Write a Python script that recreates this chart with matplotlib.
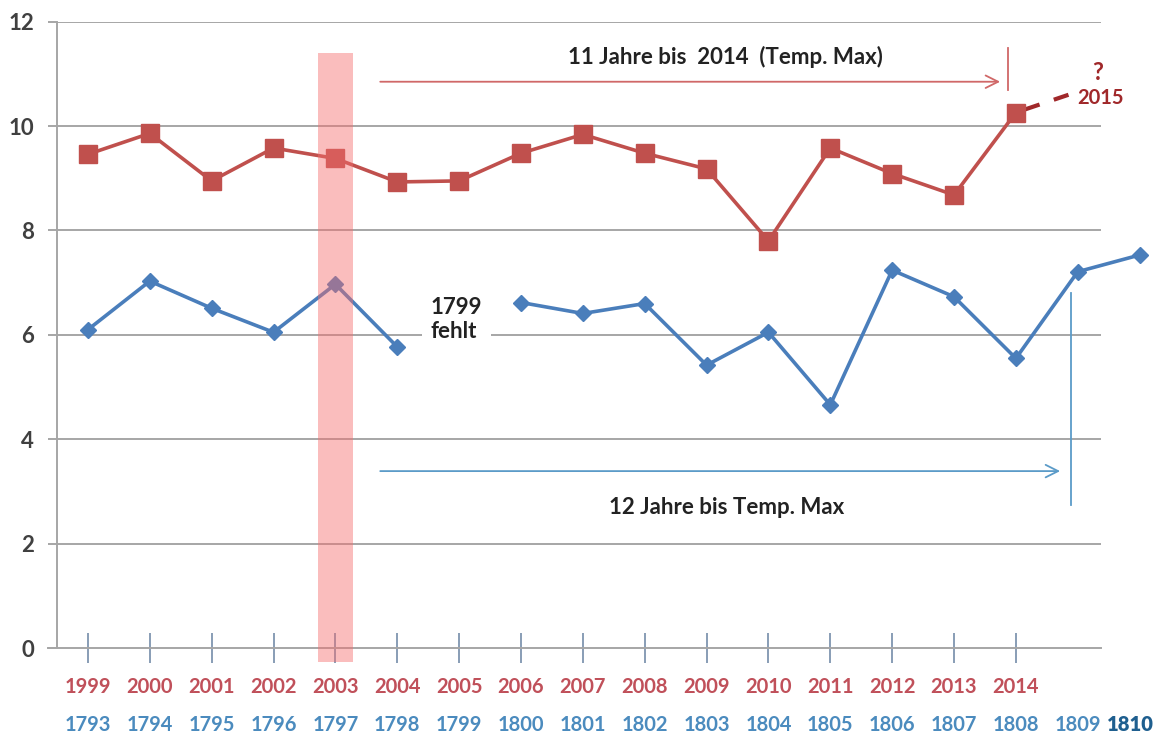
import numpy as np
import matplotlib.pyplot as plt

plt.rcParams['font.family'] = ['Lato', 'DejaVu Sans']

# Jahre (neu, rot) und Jahre (alt, blau)
years_new = ['1999', '2000', '2001', '2002', '2003', '2004', '2005', '2006',
             '2007', '2008', '2009', '2010', '2011', '2012', '2013', '2014']
years_old = ['1793', '1794', '1795', '1796', '1797', '1798', '1799', '1800', '1801',
             '1802', '1803', '1804', '1805', '1806', '1807', '1808', '1809', '1810']

temp_new = [9.46, 9.86, 8.95, 9.58, 9.38, 8.93, 8.95, 9.48,
            9.84, 9.48, 9.18, 7.80, 9.58, 9.09, 8.68, 10.26]
# 1799 fehlt
temp_old = [6.10, 7.03, 6.51, 6.05, 6.97, 5.77, np.nan, 6.62, 6.41,
            6.60, 5.42, 6.05, 4.66, 7.24, 6.73, 5.55, 7.21, 7.53]

# Trend 2014 -> 2015 (?)
trend_x = [15, 15.85]
trend_y = [10.26, 10.60]

highlight_idx = 4       # 2003 / 1797
yticks = [0, 2, 4, 6, 8, 10, 12]

RED = '#c0504d'
BLUE = '#4a7ebb'
GRID = '#a6a6a6'

fig = plt.figure(figsize=(11.56, 7.38), dpi=100)
ax = fig.add_axes([57 / 1156, 74.3 / 738, 1095 / 1156, 642 / 738])
ax.set_xlim(-0.5, 17.2)
ax.set_ylim(-0.3, 12.0)

x_new = np.arange(len(years_new))
x_old = np.arange(len(years_old))

# gridlines
ax.hlines(yticks[1:], -0.65, 16.37, color=GRID, lw=1.4, zorder=1)

for s in ['top', 'right']:
    ax.spines[s].set_visible(False)
ax.spines['left'].set_bounds(0, 12)
ax.spines['left'].set_color(GRID)
ax.spines['left'].set_linewidth(1.4)
ax.spines['bottom'].set_position(('data', 0))
ax.spines['bottom'].set_bounds(-0.65, 16.37)
ax.spines['bottom'].set_color(GRID)
ax.spines['bottom'].set_linewidth(1.4)

ax.set_yticks(yticks)
ax.set_yticklabels([str(v) for v in yticks], fontsize=16, fontweight='bold', color='#404040')
ax.tick_params(axis='y', length=6.5, width=1.4, color=GRID, pad=10)
ax.set_xticks(x_new)
ax.set_xticklabels([])
ax.tick_params(axis='x', direction='inout', length=21.6, width=1.3, color='#7f95b0')

# data lines
ax.plot(x_new, temp_new, color=RED, lw=2.6, marker='s', ms=13, zorder=3)
ax.plot(x_old, temp_old, color=BLUE, lw=2.6, marker='D', ms=8.5, zorder=3)
ax.plot(trend_x, trend_y, color='#a0282a', lw=3, dashes=(6, 3.6), zorder=2)

# highlighted year 2003 / 1797
ax.bar(highlight_idx, 11.66, bottom=-0.26, width=0.56, color=(245 / 255, 110 / 255, 110 / 255),
       alpha=0.45, lw=0, zorder=4, clip_on=False)

# category labels, two rows
for i, lbl in enumerate(years_new):
    ax.text(i, -0.75, lbl, ha='center', va='center', fontsize=14.5, fontweight='bold',
            color='#c0505a', clip_on=False)
for i, lbl in enumerate(years_old):
    if lbl == '1810':
        ax.text(i - 0.15, -1.47, lbl, ha='center', va='center', fontsize=14.5, fontweight='heavy',
                color='#1f5f8f', clip_on=False)
    else:
        ax.text(i, -1.47, lbl, ha='center', va='center', fontsize=14.5, fontweight='bold',
                color='#4b8bbe', clip_on=False)

# annotations
ax.annotate('', xy=(14.79, 10.85), xytext=(4.68, 10.85),
            arrowprops=dict(arrowstyle='->,head_length=0.9,head_width=0.45', color='#d06868', lw=1.3))
ax.plot([14.87, 14.87], [10.69, 11.49], color='#d06868', lw=1.3)
ax.text(10.31, 11.32, '11 Jahre bis  2014  (Temp. Max)', ha='center', va='center',
        fontsize=16, fontweight='bold', color='#222222')

ax.annotate('', xy=(15.76, 3.39), xytext=(4.68, 3.39),
            arrowprops=dict(arrowstyle='->,head_length=0.9,head_width=0.45', color='#5b9bc8', lw=1.3))
ax.plot([15.89, 15.89], [2.74, 6.8], color='#5b9bc8', lw=1.3)
ax.text(10.33, 2.70, '12 Jahre bis Temp. Max', ha='center', va='center',
        fontsize=16, fontweight='bold', color='#222222')

ax.text(5.54, 6.3, '1799\nfehlt', ha='left', va='center', multialignment='left',
        fontsize=16, fontweight='bold', color='#222222', linespacing=1.2,
        bbox=dict(facecolor='white', edgecolor='none', pad=6), zorder=2)

ax.text(16.32, 11.03, '?', ha='center', va='center', fontsize=17, fontweight='bold', color='#a0282a')
ax.text(16.37, 10.54, '2015', ha='center', va='center', fontsize=14.5, fontweight='bold', color='#a0282a')

fig.savefig('out.png', dpi=100)
